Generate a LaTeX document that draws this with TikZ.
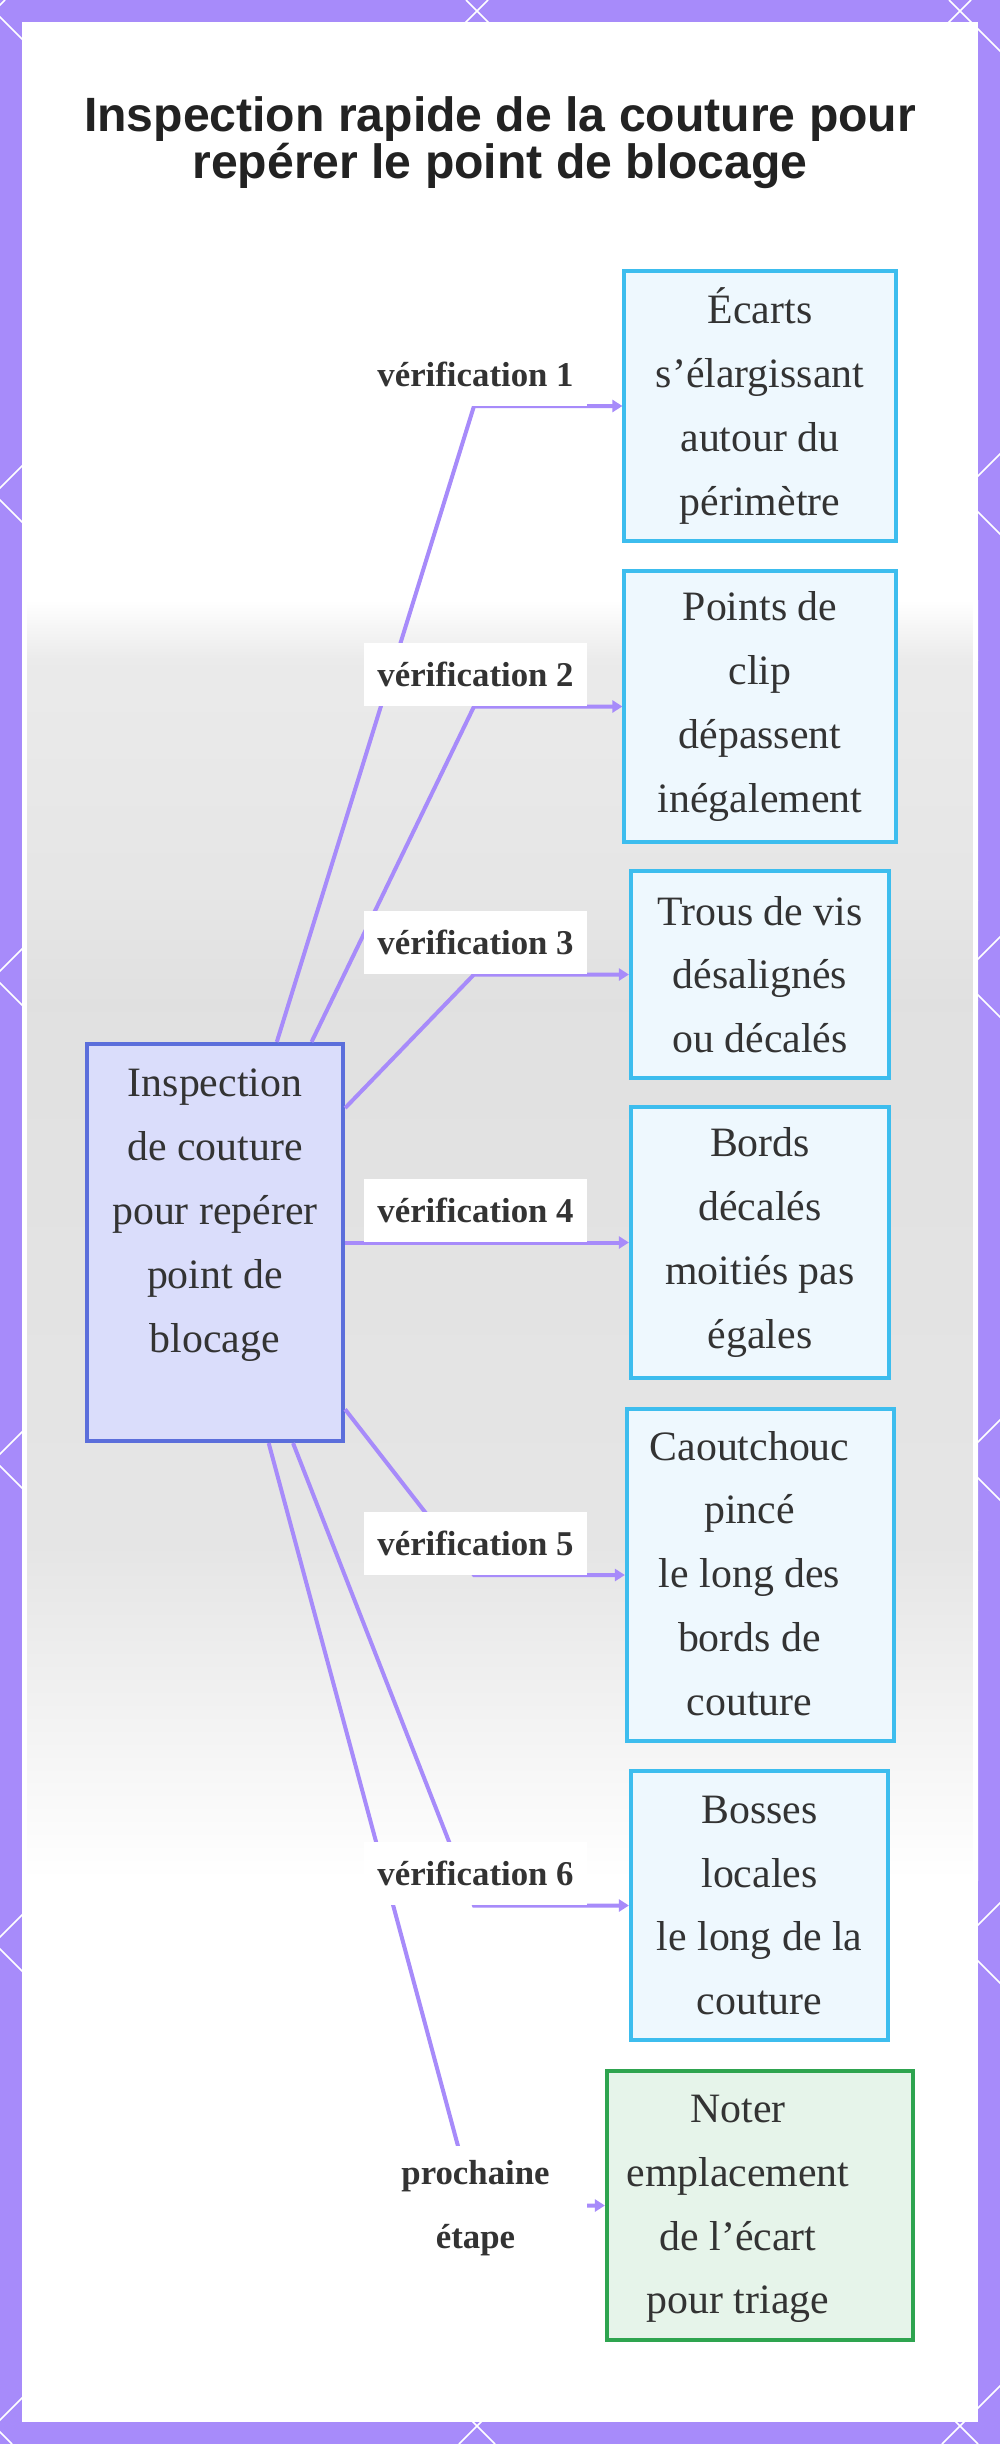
\documentclass[tikz,border=0pt]{standalone}
\usepackage{fontspec}
\setmainfont{Liberation Serif}
\setsansfont{Liberation Sans}
\usepackage{tikz}
\usetikzlibrary{arrows.meta}
\usepackage{xcolor}
\definecolor{framepurple}{HTML}{A78BFA}
\definecolor{edgepurple}{HTML}{A78BFA}
\definecolor{mainfill}{HTML}{DADDFB}
\definecolor{maindraw}{HTML}{5B6EDB}
\definecolor{checkfill}{HTML}{EEF8FE}
\definecolor{checkdraw}{HTML}{3DBDEE}
\definecolor{notefill}{HTML}{E6F4EA}
\definecolor{notedraw}{HTML}{2EA44F}
\definecolor{inktext}{HTML}{333333}
\definecolor{titletext}{HTML}{222222}

\begin{document}
\begin{tikzpicture}[x=0.02cm,y=-0.02cm,
    boxtext/.style={font=\fontsize{23.8}{36.3}\selectfont,text=inktext,align=center,inner sep=0pt},
    seambox/.style={boxtext,draw=maindraw,fill=mainfill,line width=0.075cm},
    checkbox/.style={boxtext,draw=checkdraw,fill=checkfill,line width=0.075cm},
    notebox/.style={boxtext,draw=notedraw,fill=notefill,line width=0.075cm},
    chklabel/.style={font=\bfseries\fontsize{19.8}{36.3}\selectfont,text=inktext,fill=white,
        align=center,inner sep=0pt,minimum width=4.46cm,minimum height=1.26cm},
    edge/.style={draw=edgepurple,line width=0.08cm,-{Triangle[length=0.2cm,width=0.24cm]}}]
    \useasboundingbox (0,0) rectangle (1000,2444);

    % frame with white lattice
    \fill[framepurple] (0,0) rectangle (1000,2444);
    \foreach \c in {5,488,...,3386}
        \draw[white,line width=0.03cm] (\c,0) -- (\c-2444,2444);
    \foreach \d in {-2432,-1949,...,949}
        \draw[white,line width=0.03cm] (\d,0) -- (\d+2444,2444);

    % panel with grey band
    \fill[white] (22,22) rectangle (978,600);
    \fill[top color=white,bottom color=black!8] (22,600) rectangle (978,660);
    \fill[top color=black!8,bottom color=black!10] (22,660) rectangle (978,900);
    \fill[top color=black!10,bottom color=black!12] (22,900) rectangle (978,1000);
    \fill[top color=black!12,bottom color=black!10] (22,1000) rectangle (978,1550);
    \fill[top color=black!10,bottom color=white] (22,1550) rectangle (978,1880);
    \fill[white] (22,1880) rectangle (978,2422);
    \draw[white,line width=0.1cm] (24.5,24.5) rectangle (975.5,2419.5);

    % title
    \node[font=\sffamily\bfseries\fontsize{27.4}{25.5}\selectfont,text=titletext,align=center]
        (title) at (500,143) {Inspection rapide de la couture pour\\repérer le point de blocage};

    % main box
    \node[seambox,minimum width=5.13cm,minimum height=7.95cm] (seam) at (215,1242.5)
        {Inspection\\de couture\\pour repérer\\point de\\blocage\\\mbox{}};

    % checks
    \node[checkbox,minimum width=5.43cm,minimum height=5.41cm] (gaps) at (760,406)
        {Écarts\\s’élargissant\\autour du\\périmètre};
    \node[checkbox,minimum width=5.43cm,minimum height=5.43cm] (clips) at (760,706.5)
        {Points de\\clip\\dépassent\\inégalement};
    \node[checkbox,minimum width=5.17cm,minimum height=4.15cm] (holes) at (760,974.5)
        {Trous de vis\\désalignés\\ou décalés};
    \node[checkbox,minimum width=5.17cm,minimum height=5.41cm] (halves) at (760,1242.5)
        {Bords\\décalés\\moitiés pas\\égales};
    \node[checkbox,minimum width=5.35cm,minimum height=6.65cm] (rubber) at (760.5,1575)
        {\begin{tabular}{@{}c@{}}Caoutchouc\\pincé\\le long des\\bords de\\couture\end{tabular}\hspace*{0.44cm}\mbox{}};
    \node[checkbox,minimum width=5.15cm,minimum height=5.39cm] (bumps) at (759.5,1905.5)
        {Bosses\\locales\\le long de la\\couture};
    \node[notebox,minimum width=6.13cm,minimum height=5.39cm] (note) at (760,2205.5)
        {\begin{tabular}{@{}c@{}}Noter\\emplacement\\de l’écart\\pour triage\end{tabular}\hspace*{0.88cm}\mbox{}};

    % bends
    \coordinate (k1) at (474,406);
    \coordinate (k2) at (474,706.5);
    \coordinate (k3) at (474,974.5);
    \coordinate (k4) at (474,1242.5);
    \coordinate (k5) at (474,1575);
    \coordinate (k6) at (474,1905.5);
    \coordinate (k7) at (474,2205.5);

    % connectors
    \draw[edge] (seam) -- (k1) -- (gaps);
    \draw[edge] (seam) -- (k2) -- (clips);
    \draw[edge] (seam) -- (k3) -- (holes);
    \draw[edge] (seam) -- (k4) -- (halves);
    \draw[edge] (seam) -- (k5) -- (rubber);
    \draw[edge] (seam) -- (k6) -- (bumps);
    \draw[edge] (seam) -- (k7) -- (note);

    % labels
    \node[chklabel,anchor=south] (v1) at (475.5,406) {vérification 1};
    \node[chklabel,anchor=south] (v2) at (475.5,706.5) {vérification 2};
    \node[chklabel,anchor=south] (v3) at (475.5,974.5) {vérification 3};
    \node[chklabel,anchor=south] (v4) at (475.5,1242.5) {vérification 4};
    \node[chklabel,anchor=south] (v5) at (475.5,1575) {vérification 5};
    \node[chklabel,anchor=south] (v6) at (475.5,1905.5) {vérification 6};
    \node[chklabel,minimum height=2.48cm] (nextstep) at (475.5,2208) {prochaine\\étape};
\end{tikzpicture}
\end{document}
